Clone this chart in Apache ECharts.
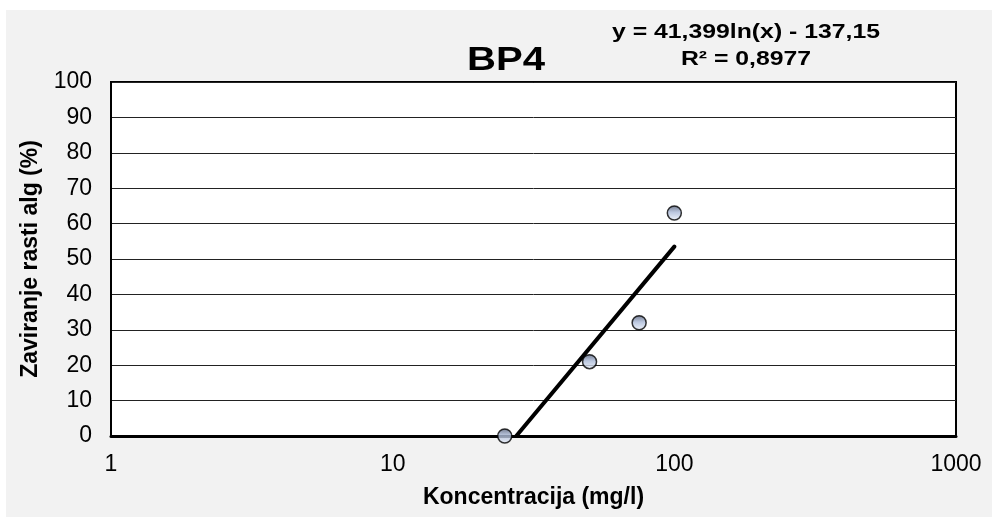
<!DOCTYPE html>
<html>
<head>
<meta charset="utf-8">
<script src="https://cdn.jsdelivr.net/npm/echarts@6/dist/echarts.min.js"></script>
<style>
  html, body { margin: 0; padding: 0; background: #fff; }
  #main { width: 992px; height: 517px; }
</style>
</head>
<body>
<div id="main"></div>
<script>
// measured points
const koncentracija = [25, 50, 75, 100];
const zaviranje = [0, 21, 32, 63];
// log trend line y = 41,399ln(x) - 137,15, drawn between its ends
const trendX = [27.47, 100];
const trendY = [0, 53.5];
const yTicks = [0, 10, 20, 30, 40, 50, 60, 70, 80, 90, 100];

const font = 'Liberation Sans, Arial, sans-serif';

const pointData = koncentracija.map((x, i) => [x, zaviranje[i]]);
const trendData = trendX.map((x, i) => [x, trendY[i]]);

const chart = echarts.init(document.getElementById('main'));

const option = {
  backgroundColor: '#fff',
  animation: false,
  graphic: [
    {
      type: 'rect',
      z: -10,
      shape: { x: 6, y: 10, width: 986, height: 507 },
      style: { fill: '#f2f2f2' }
    },
    {
      // title, a bit wider than the plain font like in the original
      type: 'text',
      x: 506, y: 61,
      scaleX: 1.18,
      style: {
        text: 'BP4',
        font: 'bold 34px ' + font,
        fill: '#000',
        textAlign: 'center',
        textVerticalAlign: 'middle'
      }
    },
    {
      type: 'text',
      x: 746, y: 46,
      scaleX: 1.18,
      style: {
        text: 'y = 41,399ln(x) - 137,15\nR² = 0,8977',
        font: 'bold 21px ' + font,
        lineHeight: 27,
        fill: '#000',
        textAlign: 'center',
        textVerticalAlign: 'middle'
      }
    }
  ],
  grid: {
    left: 111, right: 36, top: 82, bottom: 81,
    show: true,
    backgroundColor: '#fff',
    borderColor: '#000',
    borderWidth: 2
  },
  xAxis: {
    type: 'log',
    logBase: 10,
    min: 1,
    max: 1000,
    name: 'Koncentracija (mg/l)',
    nameLocation: 'middle',
    nameGap: 50,
    nameTextStyle: { fontFamily: font, fontSize: 23, fontWeight: 'bold', color: '#000' },
    axisLine: { show: true, lineStyle: { color: '#000', width: 3 } },
    axisTick: { show: false },
    splitLine: { show: false },
    minorSplitLine: { show: false },
    axisLabel: {
      fontFamily: font, fontSize: 23, color: '#000', margin: 17,
      formatter: (v) => String(v)
    }
  },
  yAxis: {
    type: 'value',
    min: yTicks[0],
    max: yTicks[yTicks.length - 1],
    interval: 10,
    name: 'Zaviranje rasti alg (%)',
    nameLocation: 'middle',
    nameGap: 69,
    nameTextStyle: { fontFamily: font, fontSize: 23, fontWeight: 'bold', color: '#000' },
    axisLine: { show: true, lineStyle: { color: '#000', width: 2 } },
    axisTick: { show: false },
    splitLine: { show: true, lineStyle: { color: '#222', width: 1 } },
    axisLabel: { fontFamily: font, fontSize: 23, color: '#000', margin: 19 }
  },
  series: [
    {
      name: 'trend',
      type: 'line',
      data: trendData,
      symbol: 'none',
      lineStyle: { color: '#000', width: 4, cap: 'round' },
      z: 2
    },
    {
      name: 'BP4',
      type: 'scatter',
      data: pointData,
      symbol: 'circle',
      symbolSize: 14,
      itemStyle: {
        color: new echarts.graphic.LinearGradient(0, 0, 0, 1, [
          { offset: 0, color: '#4e5870' },
          { offset: 0.45, color: '#a9b8d6' },
          { offset: 1, color: '#eef3fc' }
        ]),
        borderColor: '#000',
        borderWidth: 1.5
      },
      z: 3
    }
  ]
};

chart.setOption(option);
</script>
</body>
</html>
